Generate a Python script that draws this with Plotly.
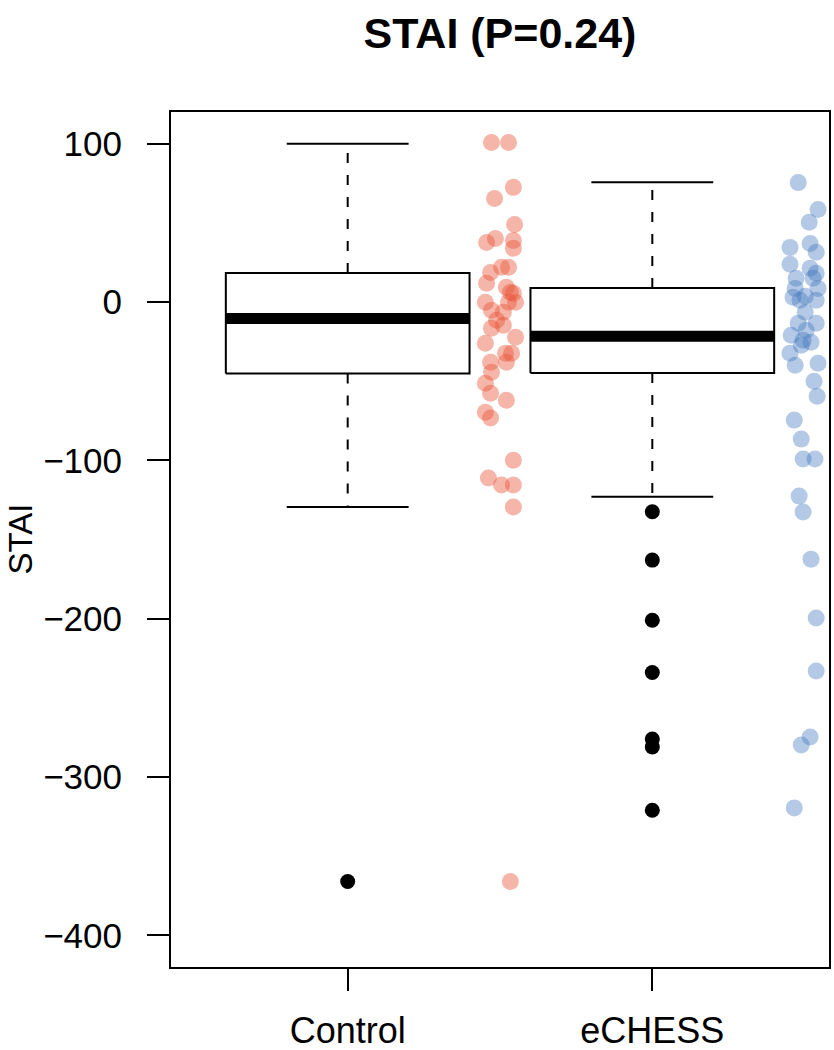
import plotly.graph_objects as go

# ---------------- data ----------------
categories = ["Control", "eCHESS"]
positions = [1, 2]

q1 = [-45.2, -44.8]
median = [-10.4, -21.6]
q3 = [18.3, 8.8]
whisker_lo = [-129.5, -123.0]
whisker_hi = [100.0, 75.7]

outliers_control = [-366.0]
outliers_echess = [-132.5, -163.0, -201.0, -234.0, -276.0, -281.0, -321.0]

# jittered raw points (x position, y value)
control_x = [1.472, 1.528, 1.544, 1.482, 1.548, 1.456, 1.485, 1.544, 1.544, 1.528,
             1.469, 1.505, 1.456, 1.534, 1.521, 1.452, 1.528, 1.489, 1.511, 1.472,
             1.551, 1.452, 1.518, 1.538, 1.521, 1.469, 1.472, 1.452, 1.469, 1.521,
             1.452, 1.469, 1.544, 1.462, 1.505, 1.544, 1.544, 1.534, 1.544, 1.472,
             1.511, 1.551]
control_y = [100.8, 100.8, 72.4, 65.4, 49.0, 37.6, 40.1, 38.9, 33.9, 21.9,
             18.7, 21.9, 11.8, 6.1, 9.3, -0.2, -0.2, -11.5, -14.7, -16.6,
             -22.3, -26.1, -32.4, -32.4, -38.1, -38.1, -44.4, -51.3, -57.6, -62.1,
             -69.6, -73.3, -99.9, -111.2, -115.6, -115.6, -129.5, -366.0, 5.5, -5.2,
             -6.4, -0.2]

echess_x = [2.479, 2.544, 2.515, 2.452, 2.518, 2.538, 2.452, 2.518, 2.538, 2.472,
            2.528, 2.469, 2.544, 2.485, 2.462, 2.538, 2.502, 2.479, 2.538, 2.456,
            2.495, 2.521, 2.489, 2.452, 2.544, 2.469, 2.531, 2.541, 2.466, 2.489,
            2.495, 2.534, 2.482, 2.495, 2.521, 2.538, 2.538, 2.518, 2.489, 2.466,
            2.502, 2.505]
echess_y = [75.4, 58.4, 50.3, 34.5, 37.0, 31.4, 23.8, 21.3, 18.1, 15.0,
            15.0, 8.6, 8.6, 1.1, 3.0, 1.1, -6.5, -13.4, -13.4, -21.0,
            -24.2, -25.4, -27.3, -32.3, -38.7, -39.9, -50.0, -59.5, -74.6, -86.6,
            -99.2, -99.2, -122.6, -132.7, -162.4, -199.6, -233.0, -274.7, -279.8, -319.5,
            3.6, -17.8]

y_ticks = [100, 0, -100, -200, -300, -400]
y_tick_labels = ["100", "0", "\u2212100", "\u2212200", "\u2212300", "\u2212400"]

title_text = "STAI (P=0.24)"
y_title = "STAI"

# ---------------- styles ----------------
FONT = "Liberation Sans, Arial, Helvetica, sans-serif"
BOX_HALF = 0.4
CAP_HALF = 0.2
red = "rgba(232,80,50,0.42)"
blue = "rgba(65,120,190,0.40)"

W, H = 834, 1050
ML, MR, MT, MB = 171, 5, 111.5, 82.6

fig = go.Figure()

for i, c in enumerate(positions):
    fig.add_trace(go.Scatter(
        x=[c - BOX_HALF, c + BOX_HALF, c + BOX_HALF, c - BOX_HALF, c - BOX_HALF],
        y=[q1[i], q1[i], q3[i], q3[i], q1[i]],
        mode="lines", line=dict(color="black", width=2),
        fill="toself", fillcolor="white", hoverinfo="skip", showlegend=False))
    fig.add_trace(go.Scatter(
        x=[c - BOX_HALF, c + BOX_HALF], y=[median[i], median[i]],
        mode="lines", line=dict(color="black", width=11),
        hoverinfo="skip", showlegend=False))
    fig.add_trace(go.Scatter(
        x=[c, c, None, c, c], y=[q3[i], whisker_hi[i], None, q1[i], whisker_lo[i]],
        mode="lines", line=dict(color="black", width=2, dash="10px,12px"),
        hoverinfo="skip", showlegend=False))
    fig.add_trace(go.Scatter(
        x=[c - CAP_HALF, c + CAP_HALF, None, c - CAP_HALF, c + CAP_HALF],
        y=[whisker_hi[i], whisker_hi[i], None, whisker_lo[i], whisker_lo[i]],
        mode="lines", line=dict(color="black", width=2),
        hoverinfo="skip", showlegend=False))

fig.add_trace(go.Scatter(
    x=[positions[0]] * len(outliers_control), y=outliers_control, mode="markers",
    marker=dict(color="black", size=15), showlegend=False))
fig.add_trace(go.Scatter(
    x=[positions[1]] * len(outliers_echess), y=outliers_echess, mode="markers",
    marker=dict(color="black", size=15), showlegend=False))

fig.add_trace(go.Scatter(
    x=control_x, y=control_y, mode="markers",
    marker=dict(color=red, size=17, line=dict(width=0)), showlegend=False))
fig.add_trace(go.Scatter(
    x=echess_x, y=echess_y, mode="markers",
    marker=dict(color=blue, size=17, line=dict(width=0)), showlegend=False))

fig.update_layout(
    width=W, height=H,
    margin=dict(l=ML, r=MR, t=MT, b=MB, autoexpand=False),
    paper_bgcolor="white", plot_bgcolor="white",
    font=dict(family=FONT, color="black"),
    title=dict(text="<b>" + title_text + "</b>", x=0.5, xref="paper",
               y=1 - 33 / H, yref="container", yanchor="middle", xanchor="center",
               font=dict(family=FONT, size=43, color="black")),
    showlegend=False,
)

fig.update_xaxes(
    range=[0.42, 2.58], tickvals=positions, ticktext=categories,
    showgrid=False, zeroline=False,
    showline=True, mirror=True, linecolor="black", linewidth=2,
    ticks="outside", ticklen=22, tickwidth=2, tickcolor="black",
    tickfont=dict(family=FONT, size=36, color="black"), ticklabelstandoff=9)

fig.update_yaxes(
    range=[-420, 120], tickvals=y_ticks, ticktext=y_tick_labels,
    showgrid=False, zeroline=False,
    showline=True, mirror=True, linecolor="black", linewidth=2,
    ticks="outside", ticklen=22, tickwidth=2, tickcolor="black",
    tickfont=dict(family=FONT, size=35, color="black"), ticklabelstandoff=18)

plot_w = W - ML - MR
fig.add_annotation(
    text=y_title, textangle=-90, xref="paper", yref="paper",
    x=(20 - ML) / plot_w, y=0.5, xanchor="center", yanchor="middle",
    showarrow=False, font=dict(family=FONT, size=33, color="black"))

fig.write_html(
    "out.html",
    config={"displayModeBar": False},
    post_script="document.body.style.margin='0';"
                "document.body.style.overflow='hidden';"
                "document.documentElement.style.overflow='hidden';")
